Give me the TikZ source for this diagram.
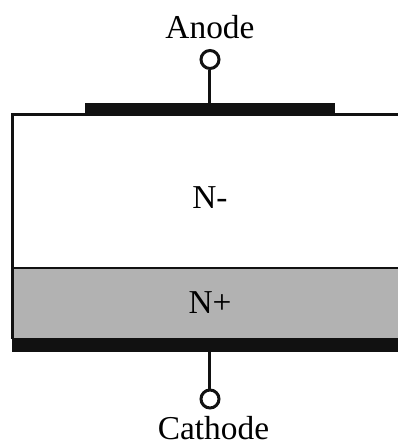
\documentclass[tikz,border=0pt]{standalone}
\usepackage{fontspec}
\setmainfont{Liberation Serif}
\usepackage{xcolor}
\definecolor{contact}{HTML}{111111}
\definecolor{nplus}{HTML}{B2B2B2}
\tikzset{
	terminal/.style={circle,draw=contact,fill=white,line width=0.06cm,inner sep=0pt,minimum size=0.36cm},
	lead/.style={draw=contact,line width=0.06cm},
	label/.style={font=\fontsize{19}{19}\selectfont,text=black,inner sep=0pt}
}
\begin{document}
\begin{tikzpicture}
		\useasboundingbox (0,0) rectangle (7.96,8.88);
		%
		% N+ layer
		\fill[nplus] (0.26,2.08) rectangle (7.96,3.52);
		\fill[contact] (0.24,1.84) rectangle (7.96,2.12);
		%
		% body outline
		\draw[lead] (7.96,6.6) -- (0.26,6.6) -- (0.26,2.1);
		\draw[lead] (0.26,3.52) -- (7.96,3.52);
		%
		% anode
		\fill[contact] (1.7,6.56) rectangle (6.7,6.82);
		\coordinate (plateA) at (4.2,6.82);
		\node[terminal] (termA) at (4.2,7.69) {};
		\draw[lead] (termA) -- (plateA);
		\node[label] (anode) at (4.2,8.33) {Anode};
		%
		% cathode
		\coordinate (plateC) at (4.2,1.84);
		\node[terminal] (termC) at (4.2,0.9) {};
		\draw[lead] (termC) -- (plateC);
		\node[label] (cathode) at (4.27,0.31) {Cathode};
		%
		% layers
		\node[label] (nminus) at (4.2,4.92) {N-};
		\node[label] (nplustext) at (4.2,2.82) {N+};
	\end{tikzpicture}
\end{document}
